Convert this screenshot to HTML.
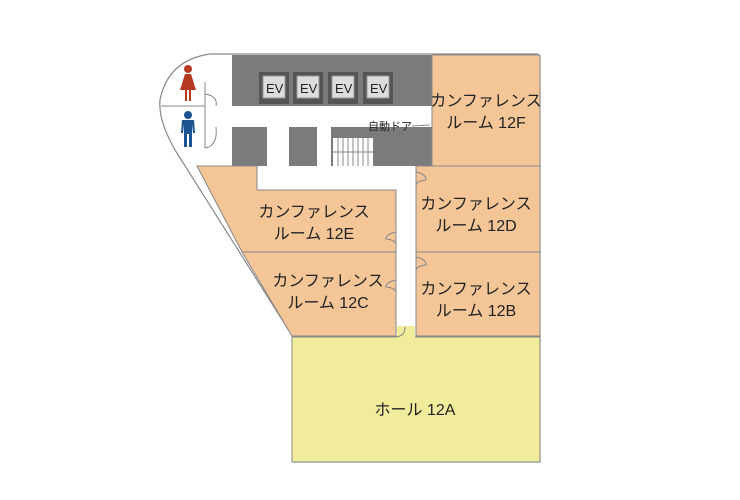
<!DOCTYPE html>
<html><head><meta charset="utf-8"><style>
html,body{margin:0;padding:0;background:#fff}
svg{display:block}
text{font-family:"Liberation Sans","Noto Sans CJK JP",sans-serif;fill:#222}
</style></head><body>
<svg width="740" height="500" viewBox="0 0 740 500">
<path d="M210,54 L536,54 Q540,54 540,58 L540,462 L293,462 L293,337 L175,150 Q158,120 160,100 Q168,60 210,54 Z" fill="#fff" stroke="#888" stroke-width="1.2"/>
<rect x="232" y="55" width="200" height="51" fill="#7b7b7b"/>
<rect x="232" y="127" width="200" height="39" fill="#7b7b7b"/>
<rect x="267" y="127" width="22" height="39" fill="#fff"/>
<rect x="317" y="127" width="14" height="39" fill="#fff"/>
<rect x="333" y="138" width="40" height="28" fill="#fff"/>
<g stroke="#888" stroke-width="1">
<line x1="338" y1="138" x2="338" y2="166"/><line x1="343" y1="138" x2="343" y2="166"/><line x1="348" y1="138" x2="348" y2="166"/><line x1="353" y1="138" x2="353" y2="166"/><line x1="358" y1="138" x2="358" y2="166"/><line x1="363" y1="138" x2="363" y2="166"/><line x1="368" y1="138" x2="368" y2="166"/>
<line x1="333" y1="152" x2="373" y2="152"/>
</g>
<g>
<rect x="259" y="72" width="30" height="32" fill="#555"/><rect x="263" y="76" width="22" height="22" fill="#ddd" stroke="#999"/>
<rect x="293" y="72" width="30" height="32" fill="#555"/><rect x="297" y="76" width="22" height="22" fill="#ddd" stroke="#999"/>
<rect x="328" y="72" width="30" height="32" fill="#555"/><rect x="332" y="76" width="22" height="22" fill="#ddd" stroke="#999"/>
<rect x="363" y="72" width="30" height="32" fill="#555"/><rect x="367" y="76" width="22" height="22" fill="#ddd" stroke="#999"/>
</g>
<g font-size="13"><text x="266" y="93">EV</text><text x="300" y="93">EV</text><text x="335" y="93">EV</text><text x="370" y="93">EV</text></g>
<line x1="161" y1="106" x2="205" y2="106" stroke="#888"/>
<line x1="205" y1="82" x2="205" y2="148" stroke="#888"/>
<path d="M205,94 Q218,96 216,106 M205,148 Q218,146 216,127" fill="none" stroke="#888"/>
<g fill="#b5391f"><circle cx="188" cy="69" r="4"/><path d="M185,74 L191,74 L196,90 L191,90 L191,101 L189,101 L189,90 L187,90 L187,101 L185,101 L185,90 L180,90 Z"/></g>
<g fill="#1a5592"><circle cx="188" cy="115" r="4"/><path d="M182,120 L194,120 L195,133 L193,133 L192,124 L192,147 L189,147 L189,134 L187,134 L187,147 L184,147 L184,124 L183,133 L181,133 Z"/></g>
<text x="368" y="130" font-size="11">自動ドア</text>
<line x1="412" y1="126" x2="430" y2="125" stroke="#888"/>
<g fill="#f3c597" stroke="#888" stroke-width="1">
<rect x="432" y="55" width="108" height="111"/>
<rect x="416" y="166" width="124" height="86"/>
<rect x="416" y="252" width="124" height="84"/>
<path d="M197,166 L257,166 L257,190 L396,190 L396,252 L242,252 Z"/>
<path d="M242,252 L396,252 L396,336 L292,336 Z"/>
</g>
<rect x="292" y="337" width="248" height="125" fill="#f0ec9c" stroke="#888" stroke-width="1"/>
<rect x="397" y="326" width="18" height="12" fill="#f0ec9c"/>
<g fill="none" stroke="#888" stroke-width="1">
<path d="M416,172 q10,2 10,8 q-10,1 -10,6 M416,257 q10,2 10,8 q-10,1 -10,6"/>
<path d="M396,232 q-10,2 -10,7 q10,1 10,6 M396,280 q-10,2 -10,7 q10,1 10,6"/>
<path d="M396,337 q9,-1 9,-10"/>
</g>
<g font-size="16" text-anchor="middle">
<text x="486" y="106">カンファレンス</text><text x="486" y="128">ルーム 12F</text>
<text x="314" y="217">カンファレンス</text><text x="314" y="239">ルーム 12E</text>
<text x="476" y="209">カンファレンス</text><text x="476" y="231">ルーム 12D</text>
<text x="328" y="286">カンファレンス</text><text x="328" y="308">ルーム 12C</text>
<text x="476" y="294">カンファレンス</text><text x="476" y="316">ルーム 12B</text>
<text x="415" y="415">ホール 12A</text>
</g>
</svg>
</body></html>
